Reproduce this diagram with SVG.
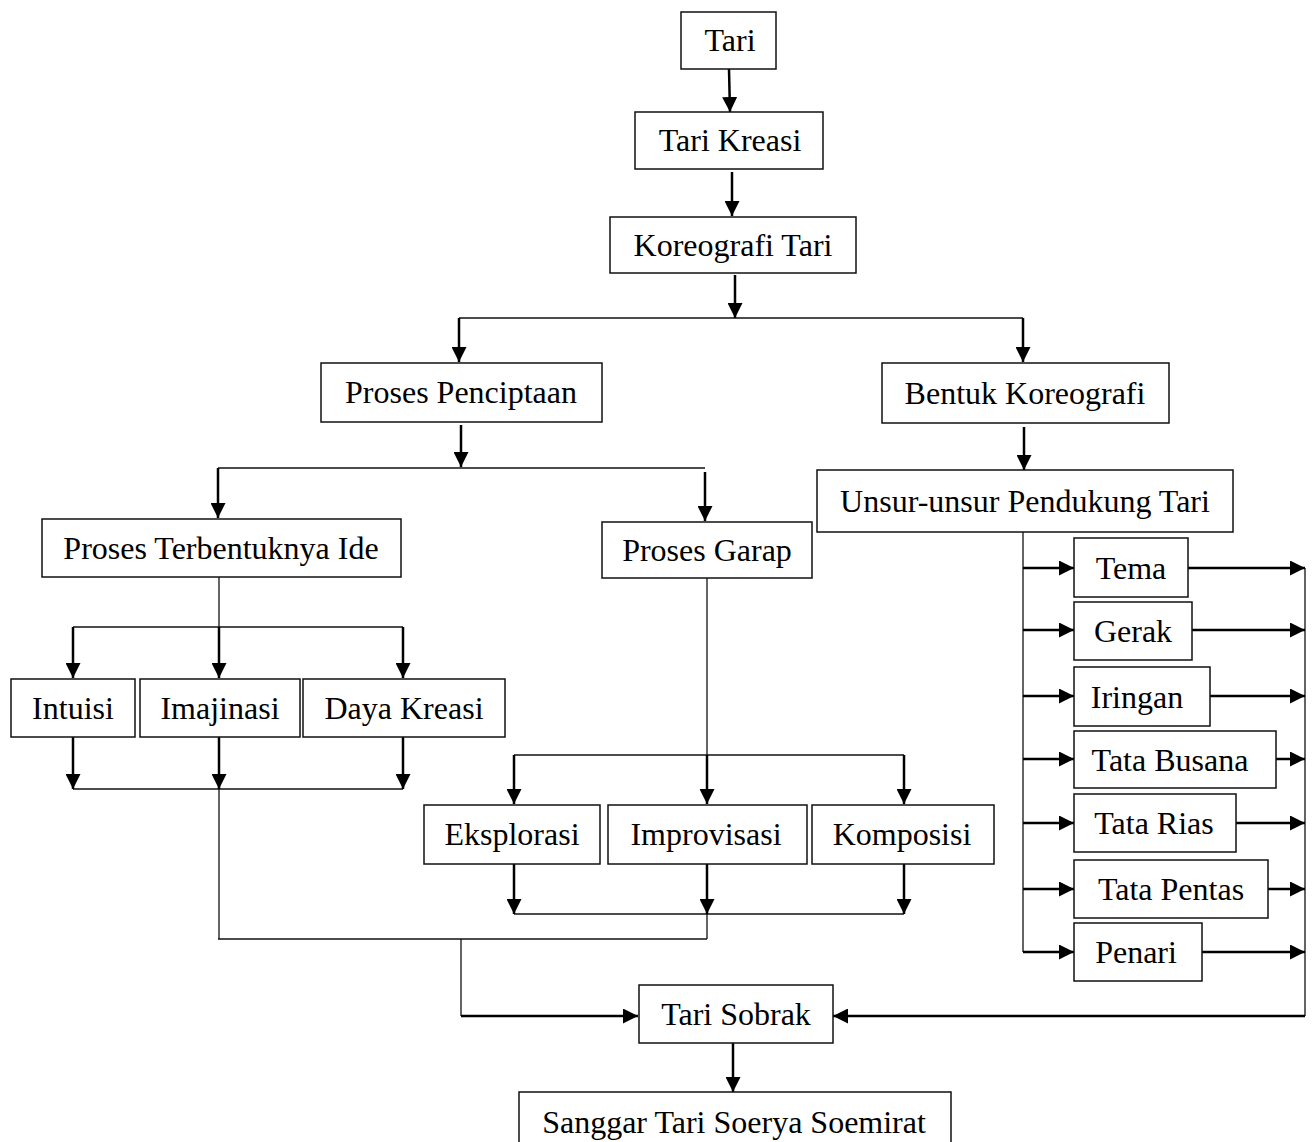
<svg xmlns="http://www.w3.org/2000/svg" width="1313" height="1142" viewBox="0 0 1313 1142">
<defs>
<marker id="ah" markerUnits="userSpaceOnUse" markerWidth="15" markerHeight="15" viewBox="0 0 15 15" refX="15" refY="7.5" orient="auto">
<path d="M0,0 L15,7.5 L0,15 z" fill="#000"/>
</marker>
<style>
.box{fill:#fff;stroke:#111;stroke-width:1.5}
.t{font-family:"Liberation Serif","Times New Roman",serif;font-size:32px;fill:#000;text-anchor:middle}
.a{stroke:#000;stroke-width:2.5;fill:none;marker-end:url(#ah)}
.l{stroke:#111;stroke-width:1.3;fill:none}
</style>
</defs>
<rect width="1313" height="1142" fill="#fff"/>
<g id="connectors">
<line class="l" x1="459" y1="318" x2="1023" y2="318"/>
<line class="l" x1="218" y1="468" x2="705" y2="468"/>
<line class="l" x1="219" y1="577" x2="219" y2="627"/>
<line class="l" x1="73" y1="627" x2="403" y2="627"/>
<line class="l" x1="73" y1="789" x2="403" y2="789"/>
<line class="l" x1="219" y1="789" x2="219" y2="939"/>
<line class="l" x1="218" y1="939" x2="707" y2="939"/>
<line class="l" x1="707" y1="914" x2="707" y2="939"/>
<line class="l" x1="707" y1="578" x2="707" y2="755"/>
<line class="l" x1="514" y1="755" x2="904" y2="755"/>
<line class="l" x1="514" y1="914" x2="904" y2="914"/>
<line class="l" x1="461" y1="939" x2="461" y2="1016"/>
<line class="l" x1="1023" y1="532" x2="1023" y2="952"/>
<line class="l" x1="1305" y1="568" x2="1305" y2="1016"/>
<line class="a" x1="729" y1="69" x2="730" y2="112"/>
<line class="a" x1="732" y1="172" x2="732" y2="216"/>
<line class="a" x1="735" y1="275" x2="735" y2="318"/>
<line class="a" x1="459" y1="318" x2="459" y2="362"/>
<line class="a" x1="1023" y1="318" x2="1023" y2="362"/>
<line class="a" x1="461" y1="425" x2="461" y2="467"/>
<line class="a" x1="218" y1="468" x2="218" y2="518"/>
<line class="a" x1="705" y1="472" x2="705" y2="521"/>
<line class="a" x1="1024" y1="427" x2="1024" y2="470"/>
<line class="a" x1="73" y1="627" x2="73" y2="678"/>
<line class="a" x1="219" y1="627" x2="219" y2="678"/>
<line class="a" x1="403" y1="627" x2="403" y2="678"/>
<line class="a" x1="73" y1="737" x2="73" y2="789"/>
<line class="a" x1="219" y1="737" x2="219" y2="789"/>
<line class="a" x1="403" y1="737" x2="403" y2="789"/>
<line class="a" x1="514" y1="755" x2="514" y2="804"/>
<line class="a" x1="707" y1="755" x2="707" y2="804"/>
<line class="a" x1="904" y1="755" x2="904" y2="804"/>
<line class="a" x1="514" y1="864" x2="514" y2="914"/>
<line class="a" x1="707" y1="864" x2="707" y2="914"/>
<line class="a" x1="904" y1="864" x2="904" y2="914"/>
<line class="a" x1="1023" y1="568" x2="1074" y2="568"/>
<line class="a" x1="1023" y1="630" x2="1074" y2="630"/>
<line class="a" x1="1023" y1="696" x2="1074" y2="696"/>
<line class="a" x1="1023" y1="759" x2="1074" y2="759"/>
<line class="a" x1="1023" y1="823" x2="1074" y2="823"/>
<line class="a" x1="1023" y1="889" x2="1074" y2="889"/>
<line class="a" x1="1023" y1="952" x2="1074" y2="952"/>
<line class="a" x1="1188" y1="568" x2="1305" y2="568"/>
<line class="a" x1="1192" y1="630" x2="1305" y2="630"/>
<line class="a" x1="1210" y1="696" x2="1305" y2="696"/>
<line class="a" x1="1276" y1="759" x2="1305" y2="759"/>
<line class="a" x1="1236" y1="823" x2="1305" y2="823"/>
<line class="a" x1="1268" y1="889" x2="1305" y2="889"/>
<line class="a" x1="1202" y1="952" x2="1305" y2="952"/>
<line class="a" x1="461" y1="1016" x2="638" y2="1016"/>
<line class="a" x1="1305" y1="1016" x2="833" y2="1016"/>
<line class="a" x1="733" y1="1043" x2="733" y2="1092"/>
</g>
<g id="n-tari"><rect class="box" x="681" y="12" width="95" height="57"/><text class="t" x="730" y="51">Tari</text></g>
<g id="n-tari-kreasi"><rect class="box" x="635" y="112" width="188" height="57"/><text class="t" x="730" y="151">Tari Kreasi</text></g>
<g id="n-koreografi-tari"><rect class="box" x="610" y="217" width="246" height="56"/><text class="t" x="733" y="256">Koreografi Tari</text></g>
<g id="n-proses-penciptaan"><rect class="box" x="321" y="363" width="281" height="59"/><text class="t" x="461" y="403">Proses Penciptaan</text></g>
<g id="n-bentuk-koreografi"><rect class="box" x="882" y="363" width="287" height="60"/><text class="t" x="1025" y="404">Bentuk Koreografi</text></g>
<g id="n-unsur"><rect class="box" x="817" y="470" width="416" height="62"/><text class="t" x="1025" y="512">Unsur-unsur Pendukung Tari</text></g>
<g id="n-ide"><rect class="box" x="42" y="519" width="359" height="58"/><text class="t" x="221" y="559">Proses Terbentuknya Ide</text></g>
<g id="n-garap"><rect class="box" x="602" y="522" width="210" height="56"/><text class="t" x="707" y="561">Proses Garap</text></g>
<g id="n-intuisi"><rect class="box" x="11" y="679" width="124" height="58"/><text class="t" x="73" y="719">Intuisi</text></g>
<g id="n-imajinasi"><rect class="box" x="140" y="679" width="160" height="58"/><text class="t" x="220" y="719">Imajinasi</text></g>
<g id="n-daya-kreasi"><rect class="box" x="303" y="679" width="202" height="58"/><text class="t" x="404" y="719">Daya Kreasi</text></g>
<g id="n-eksplorasi"><rect class="box" x="424" y="805" width="176" height="59"/><text class="t" x="512" y="845">Eksplorasi</text></g>
<g id="n-improvisasi"><rect class="box" x="608" y="805" width="199" height="59"/><text class="t" x="706" y="845">Improvisasi</text></g>
<g id="n-komposisi"><rect class="box" x="812" y="805" width="182" height="59"/><text class="t" x="902" y="845">Komposisi</text></g>
<g id="n-tema"><rect class="box" x="1074" y="538" width="114" height="59"/><text class="t" x="1131" y="579">Tema</text></g>
<g id="n-gerak"><rect class="box" x="1074" y="602" width="118" height="58"/><text class="t" x="1133" y="642">Gerak</text></g>
<g id="n-iringan"><rect class="box" x="1074" y="667" width="136" height="59"/><text class="t" x="1137" y="708">Iringan</text></g>
<g id="n-tata-busana"><rect class="box" x="1074" y="731" width="202" height="57"/><text class="t" x="1170" y="771">Tata Busana</text></g>
<g id="n-tata-rias"><rect class="box" x="1074" y="794" width="162" height="58"/><text class="t" x="1154" y="834">Tata Rias</text></g>
<g id="n-tata-pentas"><rect class="box" x="1074" y="860" width="194" height="58"/><text class="t" x="1171" y="900">Tata Pentas</text></g>
<g id="n-penari"><rect class="box" x="1074" y="923" width="128" height="58"/><text class="t" x="1136" y="963">Penari</text></g>
<g id="n-tari-sobrak"><rect class="box" x="639" y="985" width="194" height="58"/><text class="t" x="736" y="1025">Tari Sobrak</text></g>
<g id="n-sanggar"><rect class="box" x="519" y="1092" width="432" height="56"/><text class="t" x="734" y="1133">Sanggar Tari Soerya Soemirat</text></g>
</svg>
